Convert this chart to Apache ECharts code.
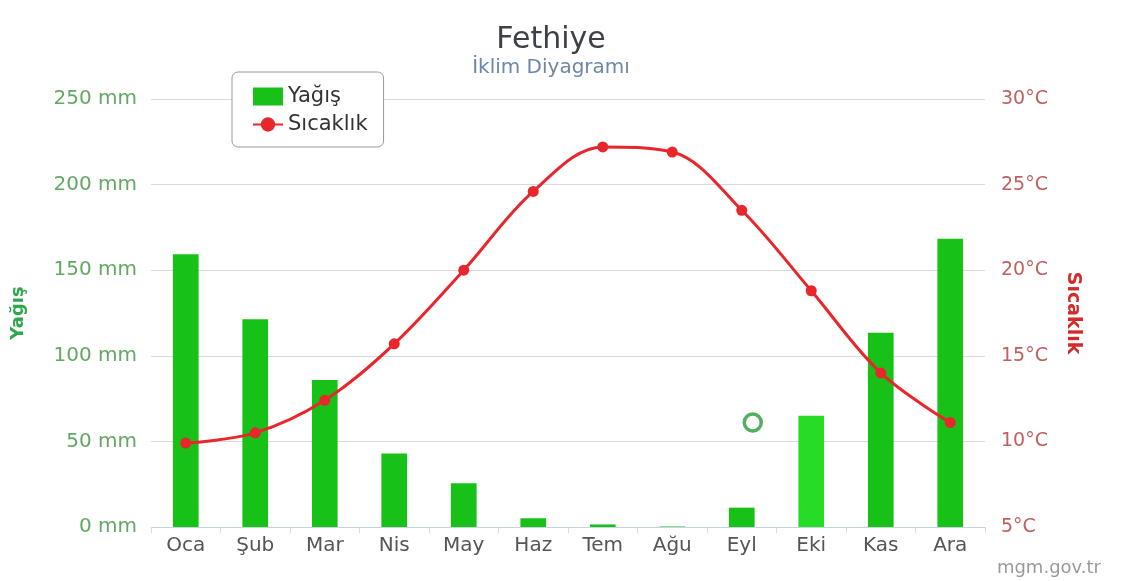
<!DOCTYPE html>
<html>
<head>
<meta charset="utf-8">
<title>Fethiye İklim Diyagramı</title>
<script src="https://cdn.jsdelivr.net/npm/echarts@6/dist/echarts.min.js"></script>
<style>
  html, body { margin: 0; padding: 0; background: #fff; }
  #chart { width: 1123px; height: 581px; }
</style>
</head>
<body>
<div id="chart"></div>
<script>
// aylar ve değerler
const months = ['Oca', 'Şub', 'Mar', 'Nis', 'May', 'Haz', 'Tem', 'Ağu', 'Eyl', 'Eki', 'Kas', 'Ara']
const rainMm = [159.3, 121.4, 85.8, 43, 25.5, 5.1, 1.5, 0.3, 11.3, 65, 113.4, 168.4]
const tempC = [9.9, 10.5, 12.4, 15.7, 20.0, 24.6, 27.2, 26.9, 23.5, 18.8, 14.0, 11.1]
const rainTicks = [0, 50, 100, 150, 200, 250]
const tempTicks = [5, 10, 15, 20, 25, 30]
// ekranda kalan boş yeşil işaret
const strayMarker = [['Eyl', 61]]

const FONT = 'DejaVu Sans'
const highlightMonth = 'Eki'

const chart = echarts.init(document.getElementById('chart'))

const option = {
  backgroundColor: '#fff',
  animation: false,
  textStyle: { fontFamily: FONT },
  title: {
    text: 'Fethiye',
    subtext: 'İklim Diyagramı',
    left: 546,
    textAlign: 'center',
    top: 20,
    itemGap: 3,
    textStyle: { fontFamily: FONT, fontSize: 30, fontWeight: 'normal', color: '#3d4147' },
    subtextStyle: { fontFamily: FONT, fontSize: 20, color: '#6f86a8' }
  },
  legend: {
    orient: 'vertical',
    left: 232,
    top: 72,
    padding: [14, 16, 12, 20],
    itemGap: 7,
    itemWidth: 30,
    itemHeight: 18,
    backgroundColor: '#fff',
    borderColor: '#9a9a9a',
    borderWidth: 1,
    borderRadius: 6,
    textStyle: { fontFamily: FONT, fontSize: 21, color: '#333' },
    data: [{ name: 'Yağış', icon: 'rect' }, 'Sıcaklık']
  },
  grid: {
    left: 151,
    right: 138,
    top: 99,
    bottom: 54
  },
  xAxis: {
    type: 'category',
    data: months,
    axisLine: { lineStyle: { color: '#c6d2de' } },
    axisTick: { show: true, alignWithLabel: false, length: 6, lineStyle: { color: '#dcdcdc' } },
    axisLabel: { color: '#555', fontSize: 20, margin: 9, fontFamily: FONT }
  },
  yAxis: [
    {
      type: 'value',
      name: 'Yağış',
      nameLocation: 'middle',
      nameGap: 124,
      nameTextStyle: { color: '#2ea84a', fontWeight: 'bold', fontSize: 18, fontFamily: FONT },
      min: rainTicks[0],
      max: rainTicks[rainTicks.length - 1],
      interval: 50,
      axisLine: { show: false },
      axisTick: { show: false },
      splitLine: { lineStyle: { color: '#dadada' } },
      axisLabel: { color: '#64a864', fontSize: 20, margin: 14, formatter: '{value} mm', fontFamily: FONT }
    },
    {
      type: 'value',
      name: 'Sıcaklık',
      nameLocation: 'middle',
      nameGap: 78,
      nameRotate: -90,
      nameTextStyle: { color: '#d42a2a', fontWeight: 'bold', fontSize: 19, fontFamily: FONT },
      min: tempTicks[0],
      max: tempTicks[tempTicks.length - 1],
      interval: 5,
      axisLine: { show: false },
      axisTick: { show: false },
      splitLine: { show: false },
      axisLabel: { color: '#c06060', fontSize: 19, margin: 16, formatter: '{value}°C', fontFamily: FONT }
    }
  ],
  series: [
    {
      name: 'Yağış',
      type: 'bar',
      barWidth: '37%',
      itemStyle: { color: '#18c118' },
      data: rainMm.map((v, i) => months[i] === highlightMonth
        ? { value: v, itemStyle: { color: '#27dc27' } }
        : v)
    },
    {
      name: 'Sıcaklık',
      type: 'line',
      yAxisIndex: 1,
      smooth: 0.35,
      symbol: 'circle',
      symbolSize: 11,
      itemStyle: { color: '#e8262b' },
      lineStyle: { color: '#e8262b', width: 3 },
      data: tempC,
      z: 5
    },
    {
      name: 'marker',
      type: 'scatter',
      yAxisIndex: 0,
      symbol: 'circle',
      symbolSize: 17,
      symbolOffset: [11, 0],
      itemStyle: { color: 'rgba(0,0,0,0)', borderColor: '#2a9a3a', borderWidth: 3.5 },
      data: strayMarker,
      z: 6
    }
  ],
  graphic: [
    {
      type: 'text',
      right: 22,
      bottom: 4,
      style: { text: 'mgm.gov.tr', fill: '#9a9a9a', font: '18px "DejaVu Sans"' }
    }
  ]
}

chart.setOption(option)
window.addEventListener('resize', () => chart.resize())
</script>
</body>
</html>
